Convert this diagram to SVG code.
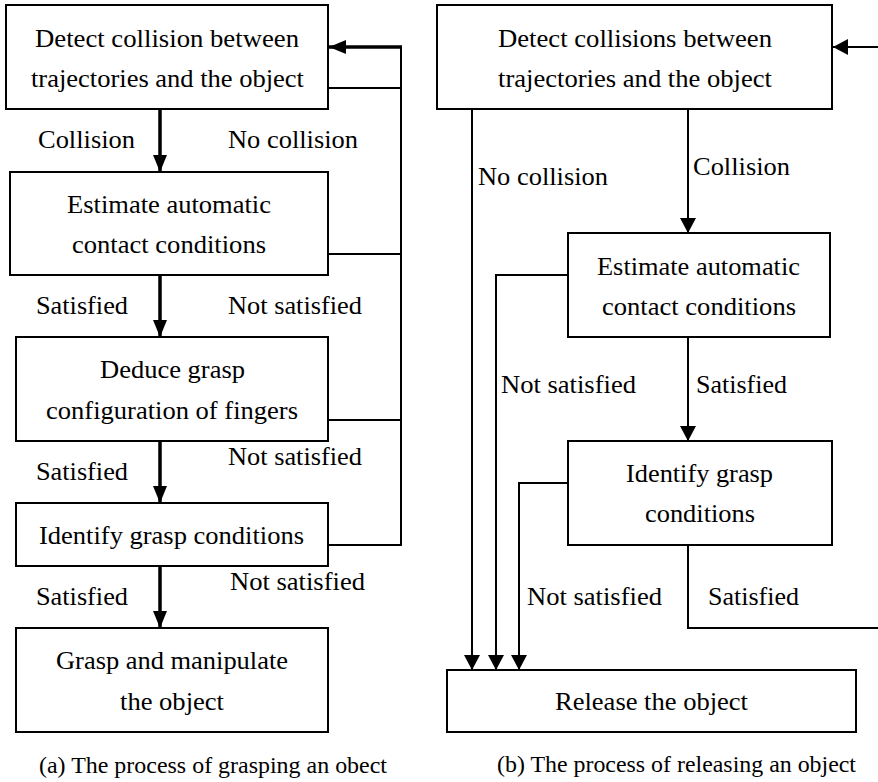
<svg xmlns="http://www.w3.org/2000/svg" width="878" height="782" viewBox="0 0 878 782">
<style>
.box{fill:#fff;stroke:#000;stroke-width:2}
text{font-family:"Liberation Serif","Times New Roman",serif;font-size:25px;fill:#000}
.cap{font-size:23.5px}
.thick{stroke:#000;stroke-width:3.5;fill:none}
.thin{stroke:#000;stroke-width:2;fill:none}
</style>
<defs>
<marker id="ahL" markerUnits="userSpaceOnUse" markerWidth="18" markerHeight="16" refX="17" refY="7" orient="auto">
<path d="M0,0 L17,7 L0,14 Z" fill="#000"/>
</marker>
<marker id="ahR" markerUnits="userSpaceOnUse" markerWidth="16" markerHeight="18" refX="15" refY="8" orient="auto">
<path d="M0,0 L15,8 L0,16 Z" fill="#000"/>
</marker>
</defs>

<g id="connectors">
<line class="thick" x1="160" y1="109" x2="160" y2="172" marker-end="url(#ahL)"/>
<line class="thick" x1="160" y1="275" x2="160" y2="337" marker-end="url(#ahL)"/>
<line class="thick" x1="160" y1="441" x2="160" y2="503" marker-end="url(#ahL)"/>
<line class="thick" x1="160" y1="566" x2="160" y2="628" marker-end="url(#ahL)"/>
<line class="thick" x1="402" y1="47" x2="329" y2="47" marker-end="url(#ahL)"/>
<path class="thin" d="M401,46 V545 H328"/>
<line class="thin" x1="328" y1="88" x2="401" y2="88"/>
<line class="thin" x1="328" y1="254" x2="401" y2="254"/>
<line class="thin" x1="328" y1="420" x2="401" y2="420"/>
<line class="thin" x1="878" y1="47" x2="833" y2="47" marker-end="url(#ahR)"/>
<line class="thin" x1="688" y1="109" x2="688" y2="233" marker-end="url(#ahR)"/>
<line class="thin" x1="688" y1="337" x2="688" y2="441" marker-end="url(#ahR)"/>
<line class="thin" x1="472" y1="109" x2="472" y2="670" marker-end="url(#ahR)"/>
<path class="thin" d="M568,275 H496 V670" marker-end="url(#ahR)"/>
<path class="thin" d="M568,483 H519 V670" marker-end="url(#ahR)"/>
<path class="thin" d="M688,545 V628 H878"/>
</g>

<g id="labels">
<text x="38" y="148" textLength="97" lengthAdjust="spacingAndGlyphs">Collision</text>
<text x="228" y="148" textLength="130" lengthAdjust="spacingAndGlyphs">No collision</text>
<text x="36" y="314" textLength="92" lengthAdjust="spacingAndGlyphs">Satisfied</text>
<text x="228" y="314" textLength="134" lengthAdjust="spacingAndGlyphs">Not satisfied</text>
<text x="36" y="480" textLength="92" lengthAdjust="spacingAndGlyphs">Satisfied</text>
<text x="228" y="465" textLength="134" lengthAdjust="spacingAndGlyphs">Not satisfied</text>
<text x="36" y="605" textLength="92" lengthAdjust="spacingAndGlyphs">Satisfied</text>
<text x="230" y="590" textLength="135" lengthAdjust="spacingAndGlyphs">Not satisfied</text>
<text x="478" y="185" textLength="130" lengthAdjust="spacingAndGlyphs">No collision</text>
<text x="693" y="175" textLength="97" lengthAdjust="spacingAndGlyphs">Collision</text>
<text x="501" y="393" textLength="135" lengthAdjust="spacingAndGlyphs">Not satisfied</text>
<text x="696" y="393" textLength="91" lengthAdjust="spacingAndGlyphs">Satisfied</text>
<text x="527" y="605" textLength="135" lengthAdjust="spacingAndGlyphs">Not satisfied</text>
<text x="708" y="605" textLength="91" lengthAdjust="spacingAndGlyphs">Satisfied</text>
<text class="cap" x="39" y="773" textLength="348" lengthAdjust="spacingAndGlyphs">(a) The process of grasping an obect</text>
<text class="cap" x="497" y="772" textLength="359" lengthAdjust="spacingAndGlyphs">(b) The process of releasing an object</text>
</g>

<g id="a1">
<rect class="box" x="6" y="5" width="322" height="104"/>
<text x="35" y="47" textLength="264" lengthAdjust="spacingAndGlyphs">Detect collision between</text>
<text x="31" y="87" textLength="273" lengthAdjust="spacingAndGlyphs">trajectories and the object</text>
</g>
<g id="a2">
<rect class="box" x="10" y="172" width="318" height="103"/>
<text x="67" y="213" textLength="204" lengthAdjust="spacingAndGlyphs">Estimate automatic</text>
<text x="72" y="253" textLength="194" lengthAdjust="spacingAndGlyphs">contact conditions</text>
</g>
<g id="a3">
<rect class="box" x="16" y="337" width="312" height="104"/>
<text x="100" y="378" textLength="145" lengthAdjust="spacingAndGlyphs">Deduce grasp</text>
<text x="46" y="419" textLength="252" lengthAdjust="spacingAndGlyphs">configuration of fingers</text>
</g>
<g id="a4">
<rect class="box" x="16" y="503" width="312" height="63"/>
<text x="39" y="544" textLength="265" lengthAdjust="spacingAndGlyphs">Identify grasp conditions</text>
</g>
<g id="a5">
<rect class="box" x="16" y="628" width="312" height="104"/>
<text x="56" y="669" textLength="232" lengthAdjust="spacingAndGlyphs">Grasp and manipulate</text>
<text x="120" y="710" textLength="104" lengthAdjust="spacingAndGlyphs">the object</text>
</g>

<g id="b1">
<rect class="box" x="437" y="5" width="395" height="104"/>
<text x="498" y="47" textLength="274" lengthAdjust="spacingAndGlyphs">Detect collisions between</text>
<text x="498" y="87" textLength="274" lengthAdjust="spacingAndGlyphs">trajectories and the object</text>
</g>
<g id="b2">
<rect class="box" x="568" y="233" width="262" height="104"/>
<text x="597" y="275" textLength="203" lengthAdjust="spacingAndGlyphs">Estimate automatic</text>
<text x="602" y="315" textLength="194" lengthAdjust="spacingAndGlyphs">contact conditions</text>
</g>
<g id="b3">
<rect class="box" x="568" y="441" width="264" height="104"/>
<text x="626" y="482" textLength="147" lengthAdjust="spacingAndGlyphs">Identify grasp</text>
<text x="645" y="522" textLength="110" lengthAdjust="spacingAndGlyphs">conditions</text>
</g>
<g id="b4">
<rect class="box" x="447" y="670" width="409" height="62"/>
<text x="555" y="710" textLength="193" lengthAdjust="spacingAndGlyphs">Release the object</text>
</g>
</svg>
